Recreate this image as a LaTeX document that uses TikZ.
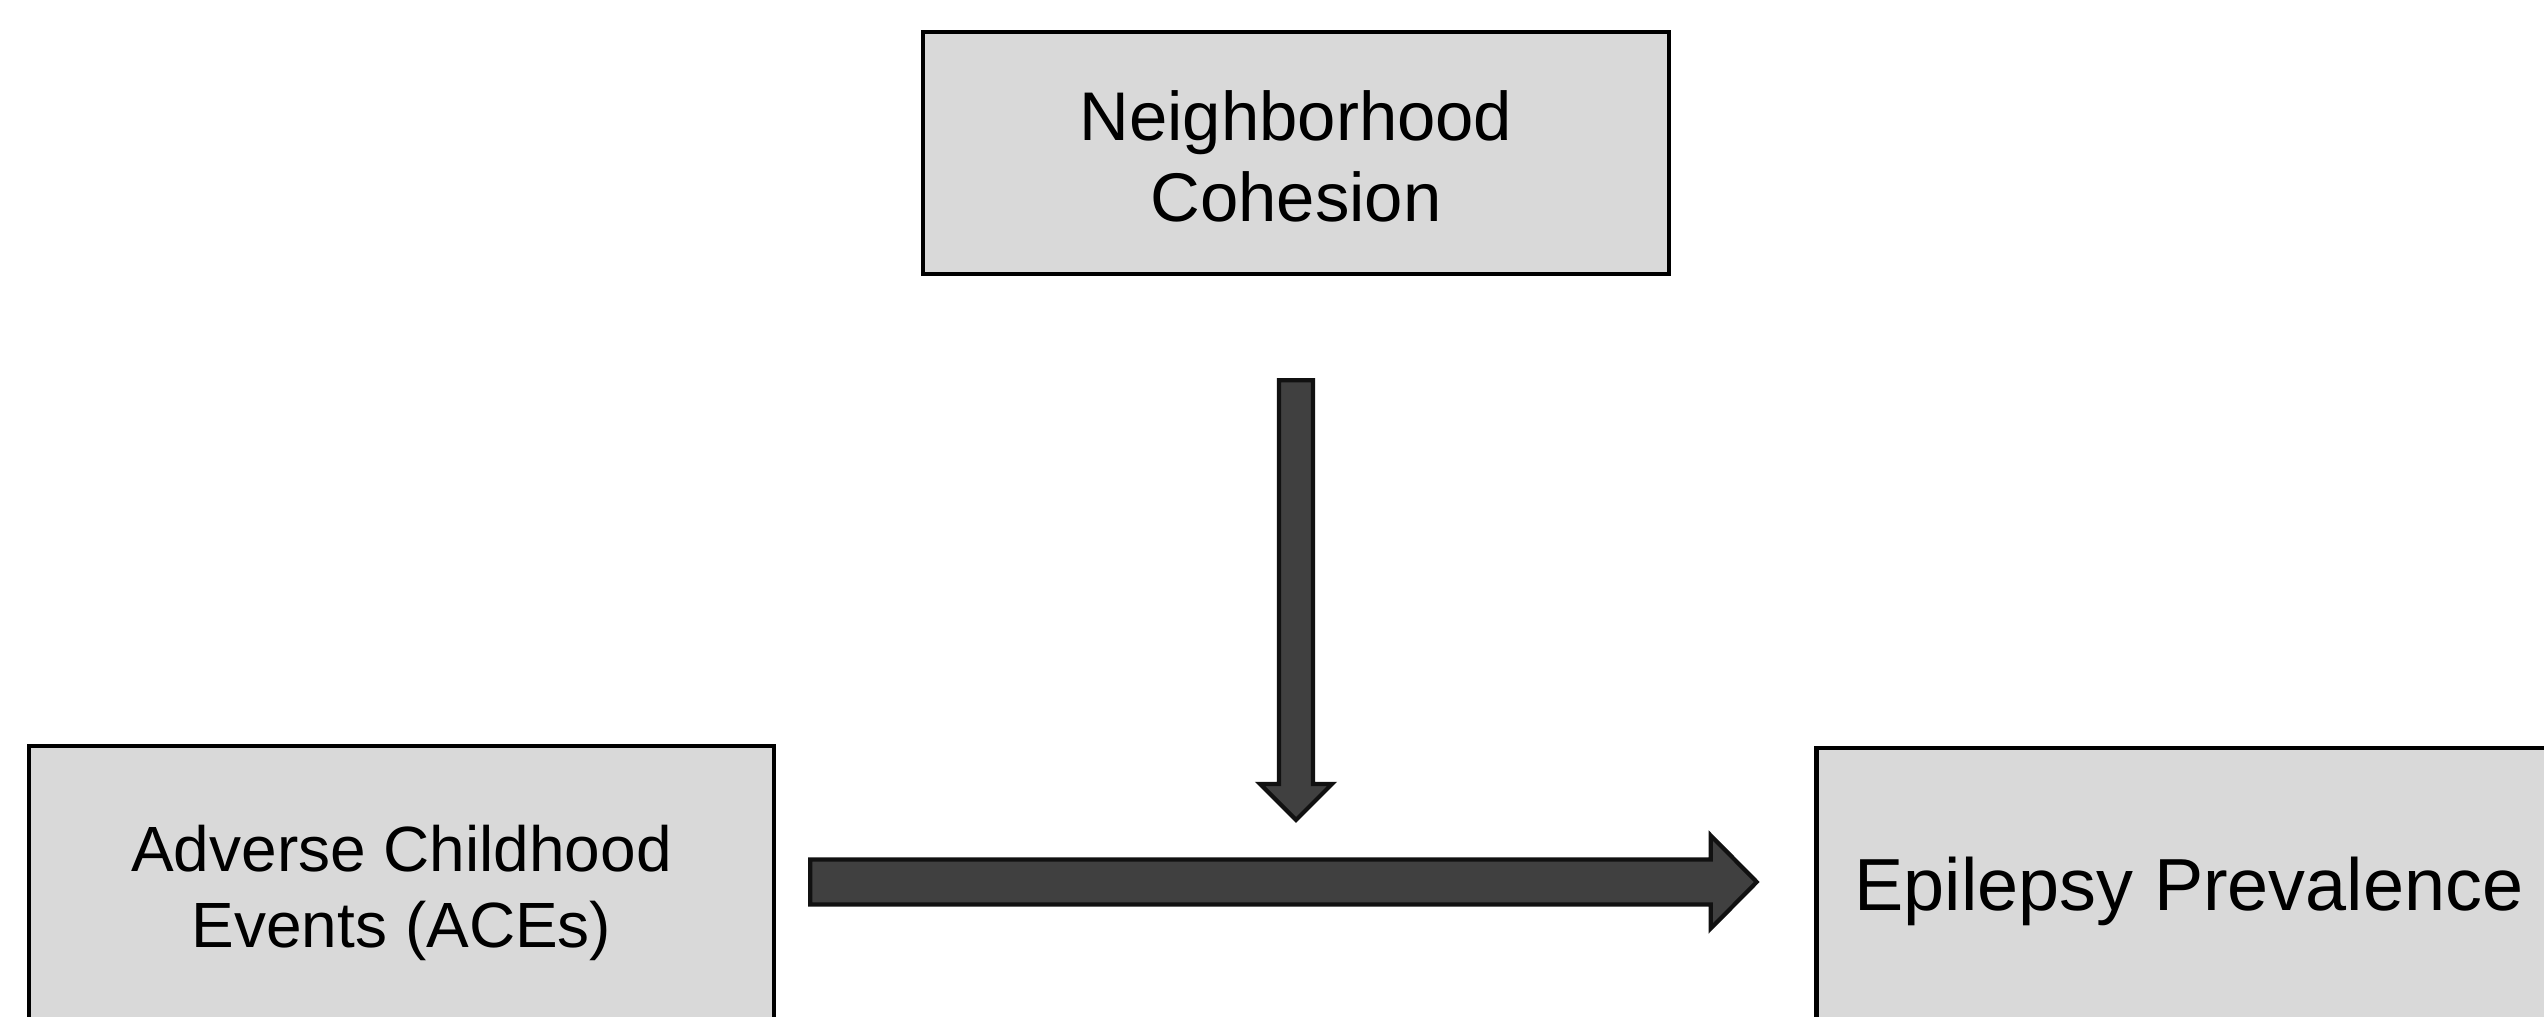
\documentclass[tikz,border=0pt]{standalone}
\usepackage{fontspec}
\setmainfont{Liberation Sans}
\usetikzlibrary{positioning, calc}

\definecolor{boxgray}{HTML}{D9D9D9}
\definecolor{arrowgray}{HTML}{404040}
\definecolor{edgeblack}{HTML}{111111}

\begin{document}
\begin{tikzpicture}[
    factor/.style={rectangle, draw=black, fill=boxgray, line width=1.3pt,
        minimum width=7.45cm, align=center},
    blockarrow/.style={draw=edgeblack, fill=arrowgray, line width=1.2pt, line join=miter}
]

\useasboundingbox (0,0) rectangle (25.44,10.17);
\clip (0,0) rectangle (25.44,10.17);

% Moderator on top
\node[factor, minimum width=7.46cm, minimum height=2.42cm, text height=1.37cm,
    font=\fontsize{19.6pt}{23pt}\selectfont] (cohesion) at (12.96, 8.64) {Neighborhood\\Cohesion};

% Exposure and outcome
\node[factor, minimum height=2.86cm, text depth=0.05cm,
    font=\fontsize{18.2pt}{21.6pt}\selectfont] (aces) at (4.015, 1.28) {Adverse Childhood\\Events (ACEs)};
\node[factor, minimum height=2.86cm,
    font=\fontsize{21pt}{25pt}\selectfont] (prev) at (21.89, 1.26) {Epilepsy Prevalence};

% Main path: exposure -> outcome
\coordinate (hs) at ([xshift=0.34cm, yshift=0.07cm]aces.east);
\coordinate (he) at ([xshift=-0.575cm]hs -| prev.west);
\draw[blockarrow] ($(hs)+(0,0.225)$) -- ($(he)+(-0.46,0.225)$) -- ($(he)+(-0.46,0.465)$)
    -- (he) -- ($(he)+(-0.46,-0.465)$) -- ($(he)+(-0.46,-0.225)$) -- ($(hs)+(0,-0.225)$) -- cycle;

% Moderation arrow onto the main path
\coordinate (vs) at ([yshift=-1.04cm]cohesion.south);
\coordinate (vt) at ([yshift=0.69cm]cohesion.south |- aces.center);
\draw[blockarrow] ($(vs)+(-0.17,0)$) -- ($(vt)+(-0.17,0.36)$) -- ($(vt)+(-0.36,0.36)$)
    -- (vt) -- ($(vt)+(0.36,0.36)$) -- ($(vt)+(0.17,0.36)$) -- ($(vs)+(0.17,0)$) -- cycle;

\end{tikzpicture}
\end{document}
